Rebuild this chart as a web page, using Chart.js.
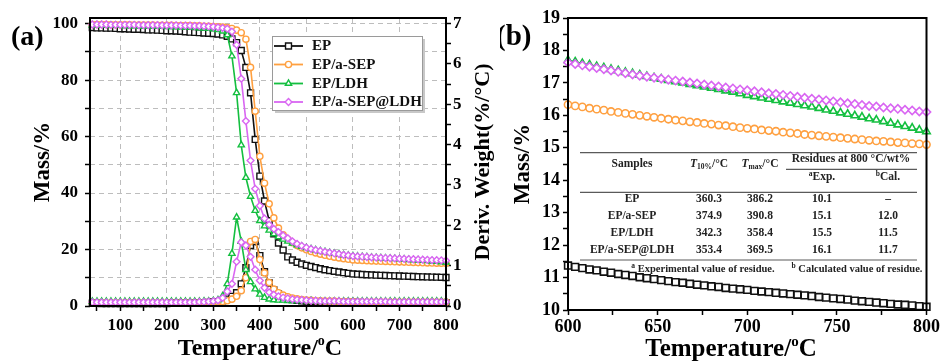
<!DOCTYPE html>
<html>
<head>
<meta charset="utf-8">
<script src="https://cdn.jsdelivr.net/npm/chart.js@4.4.1/dist/chart.umd.min.js"></script>
<style>
  html, body { margin: 0; padding: 0; background: #fff; }
  #wrap { position: relative; width: 942px; height: 363px; overflow: hidden; }
  #cA { position: absolute; left: 0; top: 0; }
  #cB { position: absolute; left: 500px; top: 0; }
</style>
</head>
<body>
<div id="wrap">
  <canvas id="cA" width="500" height="363"></canvas>
  <canvas id="cB" width="442" height="363"></canvas>
</div>
<script>
// ---------- series names ----------
const seriesNames = ['EP', 'EP/a-SEP', 'EP/LDH', 'EP/a-SEP@LDH'];

// ---------- (a) full TGA / DTG run, °C ----------
const tempA = [
  40, 50, 60, 70, 80, 90, 100, 110, 120, 130,
  140, 150, 160, 170, 180, 190, 200, 210, 220, 230,
  240, 250, 260, 270, 280, 290, 300, 310, 320, 330,
  340, 350, 360, 370, 380, 390, 400, 410, 420, 430,
  440, 450, 460, 470, 480, 490, 500, 510, 520, 530,
  540, 550, 560, 570, 580, 590, 600, 610, 620, 630,
  640, 650, 660, 670, 680, 690, 700, 710, 720, 730,
  740, 750, 760, 770, 780, 790, 800
];

// mass, %
const massEP = [
  98.6, 98.5, 98.5, 98.4, 98.4, 98.3, 98.2, 98.2, 98.1, 98.0,
  98.0, 97.9, 97.8, 97.8, 97.7, 97.6, 97.5, 97.5, 97.4, 97.3,
  97.1, 97.0, 96.9, 96.8, 96.7, 96.6, 96.5, 96.3, 96.0, 95.5,
  94.6, 93.3, 90.5, 84.5, 75.5, 59.0, 46.0, 37.2, 30.2, 25.6,
  22.3, 19.8, 17.4, 16.3, 15.5, 14.9, 14.4, 14.0, 13.6, 13.2,
  12.85, 12.55, 12.28, 12.04, 11.8, 11.58, 11.37, 11.27, 11.17, 11.08,
  11.0, 10.92, 10.86, 10.8, 10.74, 10.68, 10.62, 10.56, 10.5, 10.45,
  10.39, 10.34, 10.29, 10.25, 10.2, 10.15, 10.1
];
const massSEP = [
  99.7, 99.7, 99.7, 99.7, 99.6, 99.6, 99.6, 99.6, 99.6, 99.5,
  99.5, 99.5, 99.5, 99.5, 99.4, 99.4, 99.4, 99.4, 99.3, 99.3,
  99.3, 99.3, 99.2, 99.2, 99.1, 99.1, 99.0, 98.9, 98.8, 98.6,
  98.3, 97.7, 96.8, 94.5, 84.5, 69.0, 53.0, 43.5, 36.2, 31.2,
  27.6, 25.2, 23.6, 22.4, 21.4, 20.6, 19.9, 19.3, 18.8, 18.35,
  17.95, 17.6, 17.3, 17.02, 16.77, 16.54, 16.33, 16.24, 16.15, 16.06,
  15.98, 15.91, 15.84, 15.78, 15.72, 15.66, 15.6, 15.54, 15.48, 15.43,
  15.37, 15.32, 15.27, 15.23, 15.18, 15.14, 15.1
];
const massLDH = [
  99.4, 99.4, 99.4, 99.3, 99.3, 99.3, 99.3, 99.2, 99.2, 99.2,
  99.1, 99.1, 99.1, 99.0, 99.0, 99.0, 98.9, 98.9, 98.8, 98.8,
  98.7, 98.7, 98.6, 98.5, 98.4, 98.3, 98.1, 97.8, 97.3, 96.0,
  88.5, 75.5, 57.0, 45.5, 38.8, 33.8, 30.2, 28.3, 26.8, 25.5,
  24.5, 23.6, 22.9, 22.2, 21.6, 21.1, 20.6, 20.2, 19.8, 19.5,
  19.2, 18.9, 18.6, 18.4, 18.1, 17.9, 17.7, 17.58, 17.46, 17.34,
  17.22, 17.12, 17.02, 16.92, 16.82, 16.72, 16.62, 16.52, 16.42, 16.32,
  16.21, 16.1, 15.99, 15.87, 15.75, 15.62, 15.5
];
const massSEPLDH = [
  99.7, 99.7, 99.7, 99.7, 99.6, 99.6, 99.6, 99.6, 99.6, 99.6,
  99.5, 99.5, 99.5, 99.5, 99.5, 99.4, 99.4, 99.4, 99.4, 99.3,
  99.3, 99.3, 99.2, 99.2, 99.1, 99.0, 98.9, 98.7, 98.5, 98.2,
  97.2, 92.5, 80.5, 65.5, 51.5, 41.5, 35.5, 31.0, 28.8, 27.3,
  26.2, 25.0, 24.0, 22.9, 22.0, 21.3, 20.7, 20.2, 19.8, 19.5,
  19.2, 18.9, 18.6, 18.4, 18.1, 17.9, 17.65, 17.55, 17.45, 17.35,
  17.25, 17.15, 17.07, 16.99, 16.91, 16.84, 16.77, 16.7, 16.63, 16.56,
  16.49, 16.42, 16.35, 16.28, 16.22, 16.16, 16.1
];

// derivative weight, %/°C
const dtgEP = [
  0.07, 0.07, 0.06, 0.06, 0.06, 0.06, 0.06, 0.06, 0.06, 0.06,
  0.06, 0.06, 0.06, 0.06, 0.06, 0.06, 0.06, 0.07, 0.07, 0.07,
  0.07, 0.07, 0.07, 0.08, 0.08, 0.09, 0.10, 0.11, 0.13, 0.17,
  0.24, 0.33, 0.55, 0.95, 1.50, 1.60, 1.25, 0.85, 0.57, 0.40,
  0.30, 0.23, 0.19, 0.16, 0.14, 0.13, 0.12, 0.11, 0.11, 0.10,
  0.10, 0.10, 0.09, 0.09, 0.09, 0.09, 0.09, 0.09, 0.08, 0.08,
  0.08, 0.08, 0.08, 0.08, 0.08, 0.08, 0.08, 0.08, 0.08, 0.08,
  0.08, 0.08, 0.08, 0.08, 0.08, 0.08, 0.08
];
const dtgSEP = [
  0.08, 0.08, 0.08, 0.08, 0.08, 0.08, 0.08, 0.08, 0.08, 0.08,
  0.08, 0.08, 0.08, 0.08, 0.08, 0.08, 0.08, 0.08, 0.08, 0.08,
  0.08, 0.08, 0.08, 0.08, 0.08, 0.09, 0.09, 0.10, 0.11, 0.13,
  0.17, 0.24, 0.38, 0.70, 1.60, 1.65, 1.15, 0.82, 0.58, 0.42,
  0.33, 0.27, 0.23, 0.20, 0.18, 0.16, 0.15, 0.14, 0.13, 0.13,
  0.12, 0.12, 0.12, 0.11, 0.11, 0.11, 0.11, 0.10, 0.10, 0.10,
  0.10, 0.10, 0.10, 0.10, 0.10, 0.10, 0.10, 0.10, 0.10, 0.10,
  0.10, 0.10, 0.10, 0.10, 0.10, 0.10, 0.10
];
const dtgLDH = [
  0.11, 0.11, 0.11, 0.11, 0.11, 0.11, 0.11, 0.11, 0.11, 0.11,
  0.11, 0.11, 0.11, 0.11, 0.11, 0.11, 0.11, 0.11, 0.11, 0.11,
  0.11, 0.11, 0.11, 0.11, 0.12, 0.12, 0.13, 0.15, 0.25, 0.55,
  1.30, 2.20, 1.60, 0.90, 0.60, 0.42, 0.29, 0.21, 0.17, 0.15,
  0.14, 0.14, 0.13, 0.13, 0.13, 0.13, 0.13, 0.13, 0.12, 0.12,
  0.12, 0.12, 0.12, 0.12, 0.12, 0.12, 0.12, 0.12, 0.12, 0.12,
  0.12, 0.12, 0.12, 0.12, 0.12, 0.12, 0.12, 0.12, 0.12, 0.12,
  0.12, 0.12, 0.12, 0.12, 0.12, 0.12, 0.12
];
const dtgSEPLDH = [
  0.09, 0.09, 0.09, 0.09, 0.09, 0.09, 0.09, 0.09, 0.09, 0.09,
  0.09, 0.09, 0.09, 0.09, 0.09, 0.09, 0.09, 0.09, 0.09, 0.09,
  0.09, 0.09, 0.09, 0.10, 0.10, 0.11, 0.12, 0.14, 0.20, 0.36,
  0.55, 1.10, 1.58, 1.50, 1.22, 0.90, 0.63, 0.45, 0.34, 0.28,
  0.24, 0.21, 0.19, 0.17, 0.16, 0.15, 0.14, 0.13, 0.13, 0.12,
  0.12, 0.12, 0.12, 0.12, 0.11, 0.11, 0.11, 0.11, 0.11, 0.11,
  0.11, 0.11, 0.11, 0.11, 0.10, 0.10, 0.10, 0.10, 0.10, 0.10,
  0.10, 0.10, 0.10, 0.10, 0.10, 0.10, 0.10
];

// ---------- (b) residue region, 600–800 °C ----------
const tempB = [
  600, 604, 608, 612, 616, 620, 624, 628, 632, 636,
  640, 644, 648, 652, 656, 660, 664, 668, 672, 676,
  680, 684, 688, 692, 696, 700, 704, 708, 712, 716,
  720, 724, 728, 732, 736, 740, 744, 748, 752, 756,
  760, 764, 768, 772, 776, 780, 784, 788, 792, 796,
  800
];
const tailEP = [
  11.37, 11.33, 11.29, 11.25, 11.22, 11.18, 11.15, 11.11, 11.08, 11.05,
  11.01, 10.98, 10.95, 10.92, 10.89, 10.86, 10.84, 10.81, 10.78, 10.76,
  10.73, 10.71, 10.68, 10.66, 10.64, 10.62, 10.59, 10.57, 10.55, 10.53,
  10.51, 10.49, 10.47, 10.45, 10.43, 10.40, 10.38, 10.36, 10.34, 10.32,
  10.29, 10.27, 10.25, 10.23, 10.21, 10.19, 10.17, 10.16, 10.14, 10.12,
  10.10
];
const tailSEP = [
  16.33, 16.29, 16.26, 16.22, 16.19, 16.16, 16.12, 16.09, 16.06, 16.03,
  16.00, 15.97, 15.94, 15.91, 15.88, 15.85, 15.83, 15.80, 15.78, 15.75,
  15.73, 15.70, 15.68, 15.65, 15.62, 15.60, 15.58, 15.55, 15.53, 15.51,
  15.48, 15.46, 15.44, 15.41, 15.39, 15.37, 15.35, 15.33, 15.31, 15.29,
  15.27, 15.25, 15.23, 15.21, 15.20, 15.18, 15.16, 15.15, 15.13, 15.12,
  15.10
];
const tailLDH = [
  17.70, 17.65, 17.60, 17.56, 17.51, 17.47, 17.42, 17.38, 17.33, 17.29,
  17.25, 17.20, 17.16, 17.12, 17.08, 17.04, 17.00, 16.96, 16.92, 16.88,
  16.84, 16.80, 16.76, 16.72, 16.67, 16.62, 16.58, 16.54, 16.50, 16.46,
  16.42, 16.38, 16.34, 16.30, 16.26, 16.22, 16.17, 16.13, 16.08, 16.04,
  15.99, 15.95, 15.90, 15.86, 15.81, 15.76, 15.71, 15.66, 15.61, 15.55,
  15.50
];
const tailSEPLDH = [
  17.63, 17.58, 17.54, 17.50, 17.46, 17.42, 17.38, 17.34, 17.30, 17.26,
  17.22, 17.19, 17.16, 17.13, 17.10, 17.07, 17.04, 17.01, 16.98, 16.95,
  16.92, 16.89, 16.86, 16.83, 16.80, 16.77, 16.74, 16.71, 16.68, 16.66,
  16.63, 16.60, 16.57, 16.54, 16.51, 16.49, 16.46, 16.43, 16.40, 16.37,
  16.35, 16.32, 16.29, 16.27, 16.24, 16.22, 16.20, 16.17, 16.15, 16.12,
  16.10
];

// ---------- summary table ----------
const tableSamples = ['EP', 'EP/a-SEP', 'EP/LDH', 'EP/a-SEP@LDH'];
const tableT10 = [360.3, 374.9, 342.3, 353.4];
const tableTmax = [386.2, 390.8, 358.4, 369.5];
const tableResExp = [10.1, 15.1, 15.5, 16.1];
const tableResCal = [null, 12.0, 11.5, 11.7];

// ---------- axis ticks ----------
const xTicksA = [50, 100, 150, 200, 250, 300, 350, 400, 450, 500, 550, 600, 650, 700, 750, 800];
const yTicksA = [0, 10, 20, 30, 40, 50, 60, 70, 80, 90, 100];
const y2TicksA = [0, 0.5, 1, 1.5, 2, 2.5, 3, 3.5, 4, 4.5, 5, 5.5, 6, 6.5, 7];
const xTicksB = [600, 625, 650, 675, 700, 725, 750, 775, 800];
const yTicksB = [10, 10.5, 11, 11.5, 12, 12.5, 13, 13.5, 14, 14.5, 15, 15.5, 16, 16.5, 17, 17.5, 18, 18.5, 19];

// ---------- styling ----------
const SERIF = "'Liberation Serif','Times New Roman',serif";
const colors = ['#111111', '#FFA040', '#14BF40', '#D966F2'];
const shapes = ['rect', 'circle', 'triangle', 'rectRot'];
const radiusA = [4.2, 3.1, 3.6, 3.4];
const radiusB = [4.8, 3.6, 4.3, 4.1];
const stackOrder = [4, 3, 2, 1];

const massA = [massEP, massSEP, massLDH, massSEPLDH];
const dtgA = [dtgEP, dtgSEP, dtgLDH, dtgSEPLDH];
const tailsB = [tailEP, tailSEP, tailLDH, tailSEPLDH];

function pairs(xs, ys) { return xs.map((x, i) => ({ x: x, y: ys[i] })); }

function lineSet(label, xs, ys, k, radius, axis, width) {
  return {
    label: label,
    data: pairs(xs, ys),
    yAxisID: axis,
    borderColor: colors[k],
    backgroundColor: '#ffffff',
    borderWidth: width,
    pointStyle: shapes[k],
    pointRadius: radius[k],
    pointBackgroundColor: '#ffffff',
    pointBorderColor: colors[k],
    pointBorderWidth: 1.4,
    tension: 0,
    order: stackOrder[k],
    clip: 6
  };
}

const boldFont = (size) => ({ family: SERIF, size: size, weight: 'bold' });

function fixedWidth(w) { return (s) => { s.width = w; }; }
function fixedHeight(h) { return (s) => { s.height = h; }; }
function setTicks(list) { return (s) => { s.ticks = list.map(v => ({ value: v })); }; }

// draws a run of differently styled text pieces centred on cx
function drawPieces(ctx, cx, cy, pieces) {
  let total = 0;
  pieces.forEach(p => { ctx.font = p.font; p.w = ctx.measureText(p.t).width; total += p.w; });
  let x = cx - total / 2;
  ctx.textAlign = 'left';
  pieces.forEach(p => {
    ctx.font = p.font;
    ctx.fillText(p.t, x, cy + (p.dy || 0));
    x += p.w;
  });
}

// "Temperature/°C" with a raised small o
function drawTempTitle(ctx, cx, cy, size) {
  const f = 'bold ' + size + 'px ' + SERIF;
  const fo = 'bold ' + Math.round(size * 0.6) + 'px ' + SERIF;
  ctx.fillStyle = '#000';
  ctx.textBaseline = 'middle';
  drawPieces(ctx, cx, cy, [
    { t: 'Temperature/', font: f },
    { t: 'o', font: fo, dy: -size * 0.33 },
    { t: 'C', font: f }
  ]);
}

// frame around the plot area
const framePlugin = {
  id: 'frame',
  afterDatasetsDraw(chart) {
    const { ctx, chartArea: a } = chart;
    ctx.save();
    ctx.strokeStyle = '#000';
    ctx.lineWidth = 2;
    ctx.strokeRect(a.left, a.top, a.right - a.left, a.bottom - a.top);
    ctx.restore();
  }
};

// panel (a): tag, axis titles and legend
const decorA = {
  id: 'decorA',
  afterDraw(chart) {
    const { ctx, chartArea: a } = chart;
    ctx.save();
    ctx.fillStyle = '#000';
    ctx.font = 'bold 28px ' + SERIF;
    ctx.textAlign = 'left';
    ctx.textBaseline = 'middle';
    ctx.fillText('(a)', 11, 38);

    drawTempTitle(ctx, 260, 349, 24);

    ctx.save();
    ctx.fillStyle = '#000';
    ctx.translate(483, (a.top + a.bottom) / 2);
    ctx.rotate(-Math.PI / 2);
    ctx.textAlign = 'center';
    ctx.textBaseline = 'middle';
    ctx.font = 'bold 22px ' + SERIF;
    ctx.fillText('Deriv. Weight(%/°C)', 0, 0);
    ctx.restore();

    // legend box
    const bx = 272, by = 36, bw = 150, bh = 74;
    ctx.fillStyle = '#c8c8c8';
    ctx.fillRect(bx + 3, by + 3, bw, bh);
    ctx.fillStyle = '#ffffff';
    ctx.fillRect(bx, by, bw, bh);
    ctx.strokeStyle = '#9a9a9a';
    ctx.lineWidth = 1;
    ctx.strokeRect(bx + 0.5, by + 0.5, bw, bh);
    const rows = [46, 64.5, 83.5, 102];
    seriesNames.forEach((name, k) => {
      const y = rows[k];
      ctx.strokeStyle = colors[k];
      ctx.lineWidth = 1.8;
      ctx.beginPath();
      ctx.moveTo(274, y);
      ctx.lineTo(303, y);
      ctx.stroke();
      ctx.fillStyle = '#ffffff';
      ctx.lineWidth = 1.4;
      Chart.helpers.drawPoint(ctx, { pointStyle: shapes[k], radius: radiusA[k], rotation: 0, borderWidth: 1.4 }, 288.5, y);
      ctx.fillStyle = '#111';
      ctx.font = 'bold 15px ' + SERIF;
      ctx.textAlign = 'left';
      ctx.textBaseline = 'middle';
      ctx.fillText(name, 312, y + 0.5);
    });
    ctx.restore();
  }
};

// panel (b): tag, axis title and summary table
const decorB = {
  id: 'decorB',
  afterDraw(chart) {
    const { ctx } = chart;
    ctx.save();
    ctx.fillStyle = '#000';
    ctx.font = 'bold 29px ' + SERIF;
    ctx.textAlign = 'left';
    ctx.textBaseline = 'middle';
    ctx.fillText('(b)', -4, 38);

    drawTempTitle(ctx, 231, 350, 25);

    // rules
    const L = 80, R = 417;
    ctx.strokeStyle = '#5a5a5a';
    ctx.lineWidth = 1.2;
    [[L, 152.7, R], [286, 169.3, R], [L, 192.3, R], [L, 260, R]].forEach(r => {
      ctx.beginPath(); ctx.moveTo(r[0], r[1]); ctx.lineTo(r[2], r[1]); ctx.stroke();
    });

    const f = 'bold 11.5px ' + SERIF;
    const fi = 'italic bold 11.5px ' + SERIF;
    const fs = 'bold 7.5px ' + SERIF;
    ctx.fillStyle = '#222';
    ctx.textBaseline = 'middle';
    ctx.textAlign = 'center';
    ctx.font = f;
    ctx.fillText('Samples', 132, 164);
    drawPieces(ctx, 209, 164, [{ t: 'T', font: fi }, { t: '10%', font: fs, dy: 3 }, { t: '/°C', font: f }]);
    drawPieces(ctx, 260, 164, [{ t: 'T', font: fi }, { t: 'max', font: fs, dy: 3 }, { t: '/°C', font: f }]);
    ctx.textAlign = 'center';
    ctx.font = f;
    ctx.fillText('Residues at 800 °C/wt%', 351, 159);
    drawPieces(ctx, 322, 177, [{ t: 'a', font: fs, dy: -3 }, { t: 'Exp.', font: f }]);
    drawPieces(ctx, 388, 177, [{ t: 'b', font: fs, dy: -3 }, { t: 'Cal.', font: f }]);

    const rowY = [199.3, 216.2, 233, 250];
    ctx.textAlign = 'center';
    ctx.font = f;
    tableSamples.forEach((s, i) => {
      const y = rowY[i];
      ctx.textAlign = 'center';
      ctx.font = f;
      ctx.fillText(s, 132, y);
      ctx.fillText(tableT10[i].toFixed(1), 209, y);
      ctx.fillText(tableTmax[i].toFixed(1), 260, y);
      ctx.fillText(tableResExp[i].toFixed(1), 322, y);
      ctx.fillText(tableResCal[i] === null ? '–' : tableResCal[i].toFixed(1), 388, y);
    });
    const fn = 'bold 10.5px ' + SERIF;
    drawPieces(ctx, 203, 269.5, [{ t: 'a', font: fs, dy: -3 }, { t: ' Experimental value of residue.', font: fn }]);
    drawPieces(ctx, 357, 269.5, [{ t: 'b', font: fs, dy: -3 }, { t: ' Calculated value of residue.', font: fn }]);
    ctx.restore();
  }
};

Chart.defaults.animation = false;
Chart.defaults.font.family = SERIF;
Chart.defaults.color = '#000';

// ---------- panel (a) ----------
const dsA = [];
seriesNames.forEach((n, k) => dsA.push(lineSet(n, tempA, massA[k], k, radiusA, 'y', 1.6)));
seriesNames.forEach((n, k) => dsA.push(lineSet(n + ' DTG', tempA, dtgA[k], k, radiusA, 'y2', 1.6)));

new Chart(document.getElementById('cA'), {
  type: 'line',
  data: { datasets: dsA },
  options: {
    responsive: false,
    events: [],
    layout: { padding: { top: 18, left: 0, right: 0, bottom: 0 } },
    plugins: { legend: { display: false }, tooltip: { enabled: false } },
    scales: {
      x: {
        type: 'linear', min: 35, max: 800,
        afterBuildTicks: setTicks(xTicksA),
        afterFit: fixedHeight(57),
        ticks: { font: boldFont(17), color: '#000', padding: 4, maxRotation: 0, autoSkip: false,
                 callback: v => (v % 100 === 0 ? String(v) : '') },
        grid: {
          color: c => (c.tick && c.tick.value % 100 === 0 && c.tick.value < 800 ? '#bdbdbd' : 'rgba(0,0,0,0)'),
          lineWidth: 1, tickColor: '#000', tickLength: 5, tickWidth: 1.5, tickBorderDash: []
        },
        border: { display: false, dash: [5, 4] },
        title: { display: false }
      },
      y: {
        type: 'linear', position: 'left', min: 0, max: 102,
        afterBuildTicks: setTicks(yTicksA),
        afterFit: fixedWidth(90),
        ticks: { font: boldFont(17), color: '#000', padding: 7, autoSkip: false,
                 callback: v => (v % 20 === 0 ? String(v) : '') },
        grid: {
          color: c => (c.tick && c.tick.value > 0 ? '#bdbdbd' : 'rgba(0,0,0,0)'),
          lineWidth: 1, tickColor: '#000', tickLength: 5, tickWidth: 1.5, tickBorderDash: []
        },
        border: { display: false, dash: [5, 4] },
        title: { display: true, text: 'Mass/%', font: boldFont(23), color: '#000', padding: { top: 29, bottom: 0 } }
      },
      y2: {
        type: 'linear', position: 'right', min: 0, max: 7.14,
        afterBuildTicks: setTicks(y2TicksA),
        afterFit: fixedWidth(54),
        ticks: { font: boldFont(17), color: '#000', padding: 2, autoSkip: false,
                 callback: v => (Number.isInteger(v) ? String(v) : '') },
        grid: { drawOnChartArea: false, tickColor: '#000', tickLength: 5, tickWidth: 1.5 },
        border: { display: false }
      }
    }
  },
  plugins: [framePlugin, decorA]
});

// ---------- panel (b) ----------
const dsB = seriesNames.map((n, k) => {
  const d = lineSet(n, tempB, tailsB[k], k, radiusB, 'y', 1.5);
  d.pointBorderWidth = 1.6;
  return d;
});

new Chart(document.getElementById('cB'), {
  type: 'line',
  data: { datasets: dsB },
  options: {
    responsive: false,
    events: [],
    layout: { padding: { top: 18, left: 0, right: 14, bottom: 0 } },
    plugins: { legend: { display: false }, tooltip: { enabled: false } },
    scales: {
      x: {
        type: 'linear', min: 600, max: 800,
        afterBuildTicks: setTicks(xTicksB),
        afterFit: fixedHeight(53),
        ticks: { font: boldFont(18), color: '#000', padding: 2, maxRotation: 0, autoSkip: false,
                 callback: v => (v % 50 === 0 ? String(v) : '') },
        grid: { drawOnChartArea: false, tickColor: '#000', tickLength: 5, tickWidth: 1.5 },
        border: { display: false },
        title: { display: false }
      },
      y: {
        type: 'linear', min: 10, max: 19,
        afterBuildTicks: setTicks(yTicksB),
        afterFit: fixedWidth(68),
        ticks: { font: boldFont(18), color: '#000', padding: 3, autoSkip: false,
                 callback: v => (Number.isInteger(v) ? String(v) : '') },
        grid: { drawOnChartArea: false, tickColor: '#000', tickLength: 5, tickWidth: 1.5 },
        border: { display: false },
        title: { display: true, text: 'Mass/%', font: boldFont(23), color: '#000', padding: { top: 9, bottom: 0 } }
      }
    }
  },
  plugins: [framePlugin, decorB]
});
</script>
</body>
</html>
